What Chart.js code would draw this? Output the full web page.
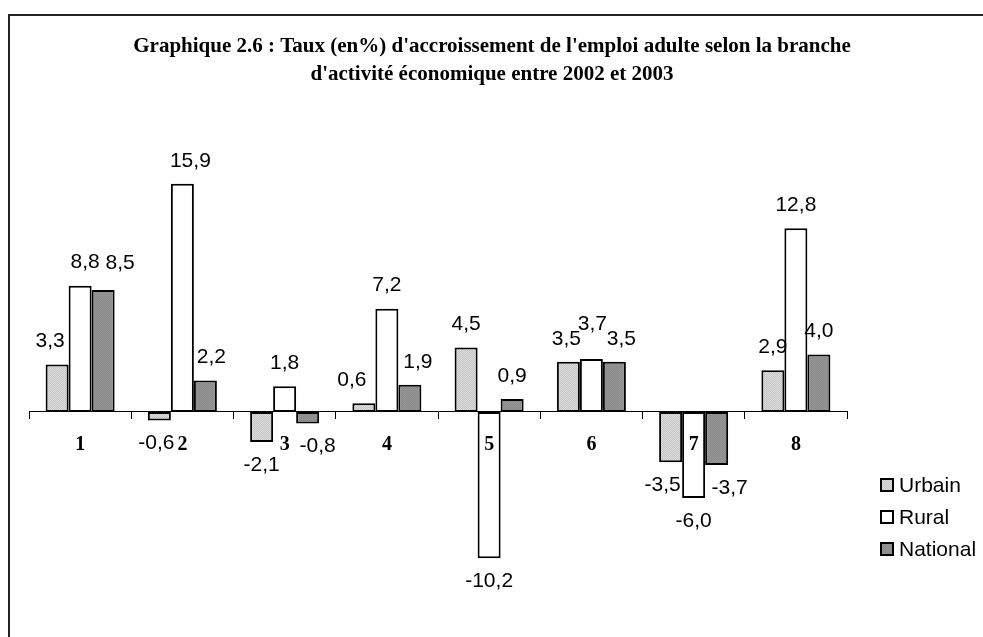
<!DOCTYPE html>
<html><head><meta charset="utf-8">
<script src="https://cdn.jsdelivr.net/npm/chart.js@4/dist/chart.umd.min.js"></script>
<style>
html,body{margin:0;padding:0;background:#fff;}
#wrap{position:relative;width:983px;height:637px;overflow:hidden;}
#frame{position:absolute;left:8px;top:14px;width:1200px;height:1200px;border-top:2px solid #222;border-left:2px solid #222;}
canvas{position:absolute;left:0;top:0;}
</style></head><body>
<div id="wrap"><div id="frame"></div><canvas id="c" width="983" height="637"></canvas></div>
<script>
const categories = ['1','2','3','4','5','6','7','8'];
const urbain   = [3.3, -0.6, -2.1, 0.6, 4.5, 3.5, -3.5, 2.9];
const rural    = [8.8, 15.9, 1.8, 7.2, -10.2, 3.7, -6.0, 12.8];
const national = [8.5, 2.2, -0.8, 1.9, 0.9, 3.5, -3.7, 4.0];
const seriesNames = ['Urbain', 'Rural', 'National'];
const titleLines = ["Graphique 2.6 : Taux (en%) d'accroissement de l'emploi adulte selon la branche",
                    "d'activité économique entre 2002 et 2003"];
// small nudges of the value labels (px), as placed in the original to avoid overlaps
const labelNudgeUrbain   = [-7, -3, 0, -12, 0, -2, -8, 0];
const labelNudgeRural    = [5, 8, 0, 0, 0, 1, 0, 0];
const labelNudgeNational = [17, 6, 10, 8, 0, 7, 13, 0];
const labelLiftRural     = [0, 0, 0, 0, 0, 12, 0, 0];
const labelLiftNational  = [4, 0, 0, 0, 0, 0, 0, 0];

function stipple(a, b) {
  const p = document.createElement('canvas');
  p.width = 2; p.height = 2;
  const g = p.getContext('2d');
  g.fillStyle = a; g.fillRect(0, 0, 2, 2);
  g.fillStyle = b; g.fillRect(0, 0, 1, 1); g.fillRect(1, 1, 1, 1);
  return g.createPattern(p, 'repeat');
}
const ctx0 = document.getElementById('c').getContext('2d');
const fills = [stipple('#c4c4c4', '#dedede'), '#ffffff', stipple('#8a8a8a', '#969696')];
const nudges = [labelNudgeUrbain, labelNudgeRural, labelNudgeNational];
const lifts = [null, labelLiftRural, labelLiftNational];

const fmt = v => v.toFixed(1).replace('.', ',');

const labelPlugin = {
  id: 'valueLabels',
  afterDatasetsDraw(chart) {
    const c = chart.ctx;
    c.save();
    c.font = '21px "Liberation Sans", Arial, sans-serif';
    c.fillStyle = '#000';
    c.textAlign = 'center';
    c.textBaseline = 'middle';
    chart.data.datasets.forEach((ds, i) => {
      const meta = chart.getDatasetMeta(i);
      meta.data.forEach((el, j) => {
        const v = ds.data[j];
        const lift = lifts[i] ? lifts[i][j] : 0;
        const y = (v >= 0 ? el.y - 23 : el.y + 23) - lift;
        c.fillText(fmt(v), el.x + nudges[i][j], y);
      });
    });
    c.restore();
  }
};

const titlePlugin = {
  id: 'titleText',
  afterDraw(chart) {
    const c = chart.ctx;
    c.save();
    c.font = 'bold 21px "Liberation Serif", "Times New Roman", serif';
    c.fillStyle = '#000';
    c.textAlign = 'center';
    c.textBaseline = 'middle';
    c.fillText(titleLines[0], 492, 47);
    c.fillText(titleLines[1], 492, 75);
    c.restore();
  }
};

const legendPlugin = {
  id: 'sideLegend',
  afterDraw(chart) {
    const c = chart.ctx;
    c.save();
    c.font = '21px "Liberation Sans", Arial, sans-serif';
    c.textAlign = 'left';
    c.textBaseline = 'middle';
    seriesNames.forEach((n, i) => {
      const cy = 485 + i * 32;
      c.fillStyle = fills[i];
      c.fillRect(881, cy - 6, 12, 12);
      c.lineWidth = 2;
      c.strokeStyle = '#000';
      c.strokeRect(881, cy - 6, 12, 12);
      c.fillStyle = '#000';
      c.fillText(n, 899, cy + 1);
    });
    c.restore();
  }
};

const seriesData = [urbain, rural, national];
new Chart(ctx0, {
  type: 'bar',
  data: {
    labels: categories,
    datasets: seriesNames.map((n, i) => ({
      label: n,
      data: seriesData[i],
      backgroundColor: fills[i],
      borderColor: '#000',
      borderWidth: 2,
      borderSkipped: false,
      categoryPercentage: 0.675,
      barPercentage: 1
    }))
  },
  options: {
    responsive: false,
    devicePixelRatio: 1,
    animation: false,
    layout: {padding: {left: 29, right: 136, top: 168, bottom: 52.8}},
    plugins: {legend: {display: false}, title: {display: false}, tooltip: {enabled: false}},
    scales: {
      y: {display: false, min: -12, max: 17},
      x: {
        position: {y: 0},
        offset: true,
        afterFit(s) { s.height = 0; },
        grid: {display: true, drawOnChartArea: false, drawTicks: true, tickLength: 7, color: '#000', lineWidth: 1, offset: true},
        border: {display: true, color: '#000', width: 1},
        ticks: {z: 1, color: '#000', padding: 14, font: {family: '"Liberation Serif", "Times New Roman", serif', size: 20, weight: 'bold'}}
      }
    }
  },
  plugins: [labelPlugin, titlePlugin, legendPlugin]
});
</script>
</body></html>
